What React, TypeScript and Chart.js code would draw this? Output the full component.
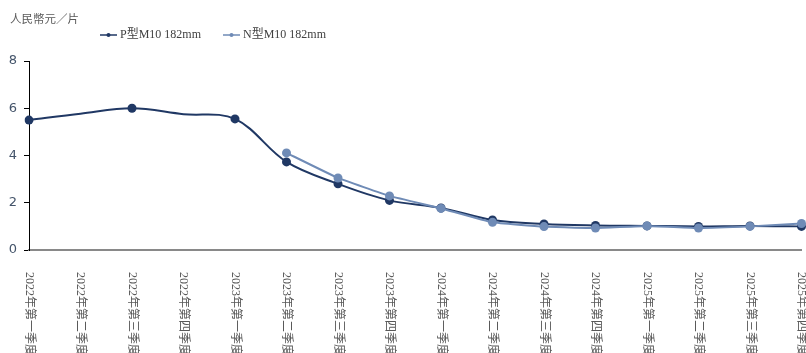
import React, { useEffect, useRef } from "react";
import { Chart, registerables } from "chart.js";

Chart.register(...registerables);

const categories = [
  "2022年第一季度", "2022年第二季度", "2022年第三季度", "2022年第四季度",
  "2023年第一季度", "2023年第二季度", "2023年第三季度", "2023年第四季度",
  "2024年第一季度", "2024年第二季度", "2024年第三季度", "2024年第四季度",
  "2025年第一季度", "2025年第二季度", "2025年第三季度", "2025年第四季度",
];

const pTypeValues = [5.5, 5.77, 6.0, 5.75, 5.55, 3.73, 2.8, 2.1, 1.78, 1.27, 1.1, 1.04, 1.02, 1.0, 1.02, 1.0];
// quarters shown on the line without their own marker
const pTypeHiddenMarkers = [1, 3];
const nTypeValues = [null, null, null, null, null, 4.11, 3.05, 2.29, 1.76, 1.17, 0.99, 0.93, 1.02, 0.93, 1.0, 1.12];

const yTicks = [0, 2, 4, 6, 8];

const unitLabel = "人民幣元／片";
const pTypeName = "P型M10 182mm";
const nTypeName = "N型M10 182mm";

const P_COLOR = "#203864";
const N_COLOR = "#6f8bb6";
const SERIF = '"Liberation Serif", "Noto Sans CJK SC", serif';

const annotations = {
  id: "annotations",
  afterDraw(chart: any) {
    const { ctx, chartArea } = chart;
    const xScale = chart.scales.x;
    ctx.save();

    // unit caption
    ctx.fillStyle = "#595959";
    ctx.font = `11.5px ${SERIF}`;
    ctx.textBaseline = "middle";
    ctx.textAlign = "left";
    ctx.fillText(unitLabel, 10, 20);

    // legend
    const items = [
      { name: pTypeName, color: P_COLOR, x: 100 },
      { name: nTypeName, color: N_COLOR, x: 223 },
    ];
    const ly = 35;
    for (const it of items) {
      ctx.strokeStyle = it.color;
      ctx.lineWidth = 1.5;
      ctx.beginPath();
      ctx.moveTo(it.x, ly);
      ctx.lineTo(it.x + 17, ly);
      ctx.stroke();
      ctx.fillStyle = it.color;
      ctx.beginPath();
      ctx.arc(it.x + 8.5, ly, 2, 0, Math.PI * 2);
      ctx.fill();
      ctx.fillStyle = "#404040";
      ctx.font = `12px ${SERIF}`;
      ctx.textBaseline = "middle";
      ctx.fillText(it.name, it.x + 20, ly);
    }

    // category labels, rotated to read downward
    ctx.fillStyle = "#595959";
    ctx.font = `12px ${SERIF}`;
    ctx.textAlign = "left";
    ctx.textBaseline = "middle";
    categories.forEach((label, i) => {
      const x = xScale.getPixelForValue(i);
      ctx.save();
      ctx.translate(x, chartArea.bottom + 22);
      ctx.rotate(Math.PI / 2);
      ctx.fillText(label, 0, 0);
      ctx.restore();
    });
    ctx.restore();
  },
};

export default function App() {
  const canvasRef = useRef<HTMLCanvasElement | null>(null);

  useEffect(() => {
    if (!canvasRef.current) return;
    const chart = new Chart(canvasRef.current, {
      type: "line",
      data: {
        labels: categories,
        datasets: [
          {
            label: pTypeName,
            data: pTypeValues,
            borderColor: P_COLOR,
            backgroundColor: P_COLOR,
            borderWidth: 2,
            tension: 0.35,
            pointRadius: (c: any) => (pTypeHiddenMarkers.includes(c.dataIndex) ? 0 : 4.5),
            pointBorderWidth: 0,
            order: 1,
          },
          {
            label: nTypeName,
            data: nTypeValues,
            borderColor: N_COLOR,
            backgroundColor: N_COLOR,
            borderWidth: 2,
            tension: 0.1,
            pointRadius: 4.5,
            pointBorderWidth: 0,
            spanGaps: false,
            order: 0,
          },
        ],
      },
      options: {
        animation: false,
        responsive: false,
        layout: { padding: { top: 61, bottom: 103, left: 0, right: 2 } },
        plugins: {
          legend: { display: false },
          tooltip: { enabled: false },
          title: { display: false },
        },
        scales: {
          x: {
            type: "category",
            offset: false,
            ticks: { display: false },
            grid: { display: false, drawTicks: false },
            border: { display: true, color: "#898989", width: 2 },
          },
          y: {
            min: 0,
            max: 8,
            afterFit: (scale: any) => {
              scale.width = 29;
            },
            afterBuildTicks: (scale: any) => {
              scale.ticks = yTicks.map((v) => ({ value: v }));
            },
            ticks: {
              color: "#44546a",
              font: { family: '"DejaVu Sans", sans-serif', size: 13 },
              padding: 7,
            },
            grid: {
              display: true,
              drawOnChartArea: false,
              drawTicks: true,
              tickLength: 5,
              color: "#000000",
            },
            border: { display: true, color: "#000000", width: 1 },
          },
        },
      },
      plugins: [annotations],
    } as any);
    return () => chart.destroy();
  }, []);

  return (
    <div style={{ position: "fixed", left: 0, top: 0, width: 806, height: 353, background: "#fff" }}>
      <canvas ref={canvasRef} width={806} height={353} style={{ display: "block" }} />
    </div>
  );
}
